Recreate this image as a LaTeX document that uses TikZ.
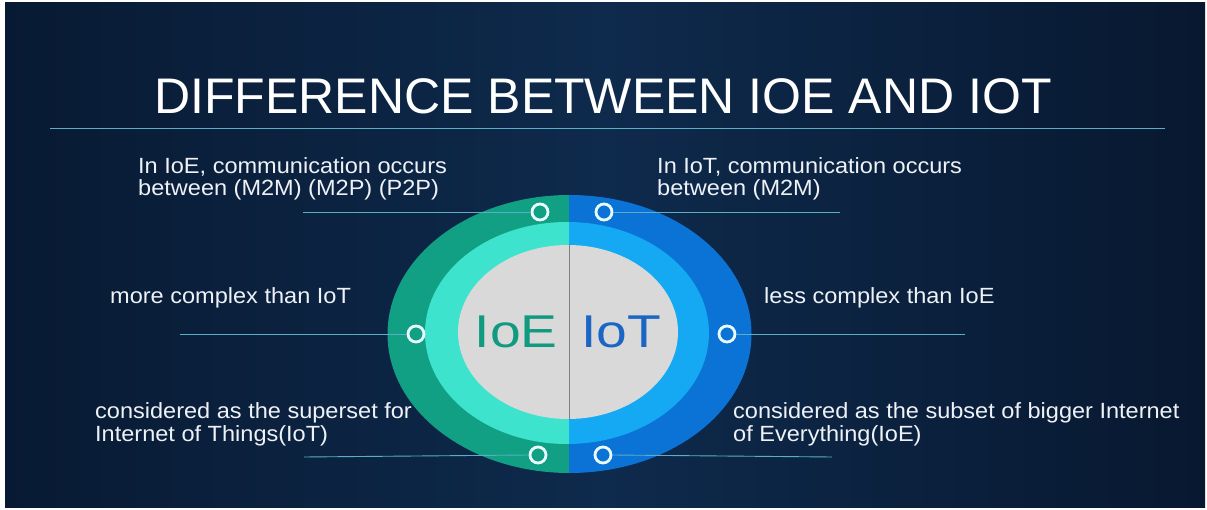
\documentclass[tikz,border=0pt]{standalone}
\usepackage{fontspec}
\setmainfont{Liberation Sans}
\usepackage{graphicx}
\definecolor{bgL}{HTML}{081A33}
\definecolor{bgM}{HTML}{0E2A4C}
\definecolor{bgR}{HTML}{081830}
\definecolor{outerL}{HTML}{12A084}
\definecolor{midL}{HTML}{3DE3CC}
\definecolor{outerR}{HTML}{0B72D6}
\definecolor{midR}{HTML}{14A9F2}
\definecolor{innerG}{HTML}{D9D9D9}
\definecolor{ioeC}{HTML}{109B80}
\definecolor{iotC}{HTML}{1A66C2}
\definecolor{mk}{HTML}{E8FBFF}
\definecolor{ln}{HTML}{5AAFC6}
\definecolor{txt}{HTML}{EEF2F7}
\newcommand{\widetxt}[1]{\scalebox{1.07}[1]{#1}}
\begin{document}
\begin{tikzpicture}[x=1pt,y=-1pt,
  lbl/.style={text=txt, font=\fontsize{22}{22.5}\selectfont, align=left, anchor=base west, inner sep=0pt},
  marker/.style={circle, draw=mk, line width=2.8pt, minimum size=16pt, inner sep=0pt},
  guide/.style={draw=ln, line width=0.9pt}]
\useasboundingbox (0,0) rectangle (1207,510);
\fill[white] (0,0) rectangle (1207,510);
\shade[left color=bgL, right color=bgR, middle color=bgM] (5,3) rectangle (1205,507);
% title
\node[text=white, font=\fontsize{50}{60}\selectfont, inner sep=0pt, anchor=base] (title) at (603,114) {DIFFERENCE BETWEEN IOE AND IOT};
\coordinate (ulA) at (50,128);
\coordinate (ulB) at (1165,128);
\draw[draw=ln, line width=0.9pt] (ulA) -- (ulB);
% ellipse halves
\begin{scope}
  \clip (5,3) rectangle (569,507);
  \fill[outerL] (569.5,334) ellipse [x radius=182pt, y radius=139pt];
  \fill[midL] (567,333) ellipse [x radius=142pt, y radius=111pt];
\end{scope}
\begin{scope}
  \clip (569,3) rectangle (1205,507);
  \fill[outerR] (569.5,334) ellipse [x radius=182pt, y radius=139pt];
  \fill[midR] (567,333) ellipse [x radius=142pt, y radius=111pt];
\end{scope}
\fill[innerG] (568,332) ellipse [x radius=110pt, y radius=87pt];
\coordinate (dvA) at (569,245);
\coordinate (dvB) at (569,419);
\draw[gray, line width=0.8pt] (dvA) -- (dvB);
\node[text=ioeC, font=\fontsize{46}{50}\selectfont, inner sep=0pt, anchor=base east] (ioe) at (558,348) {\scalebox{1.2}[1]{IoE}};
\node[text=iotC, font=\fontsize{46}{50}\selectfont, inner sep=0pt, anchor=base west] (iot) at (581,348) {\scalebox{1.2}[1]{IoT}};
% markers
\node[marker] (m1) at (540,212) {};
\node[marker] (m2) at (604,212) {};
\node[marker] (m3) at (416,334) {};
\node[marker] (m4) at (727,334) {};
\node[marker] (m5) at (538,455) {};
\node[marker] (m6) at (603,455) {};
% guide lines
\coordinate (g1) at (303,212);
\coordinate (g2) at (840,212);
\coordinate (g3) at (180,334);
\coordinate (g4) at (965,334);
\coordinate (g5) at (304,457);
\coordinate (g6) at (832,457);
\draw[guide] (g1) -- (m1.west);
\draw[guide] (m2.east) -- (g2);
\draw[guide] (g3) -- (m3.west);
\draw[guide] (m4.east) -- (g4);
\draw[guide] (g5) -- (m5.west);
\draw[guide] (m6.east) -- (g6);
% labels (base anchor = baseline of last line)
\node[lbl] (t1) at (138,196) {\widetxt{In IoE, communication occurs}\\\widetxt{between (M2M) (M2P) (P2P)}};
\node[lbl] (t2) at (657,196) {\widetxt{In IoT, communication occurs}\\\widetxt{between (M2M)}};
\node[lbl] (t3) at (110,304) {\widetxt{more complex than IoT}};
\node[lbl] (t4) at (764,304) {\widetxt{less complex than IoE}};
\node[lbl] (t5) at (95,441) {\widetxt{considered as the superset for}\\\widetxt{Internet of Things(IoT)}};
\node[lbl] (t6) at (733,441) {\widetxt{considered as the subset of bigger Internet}\\\widetxt{of Everything(IoE)}};
\end{tikzpicture}
\end{document}
